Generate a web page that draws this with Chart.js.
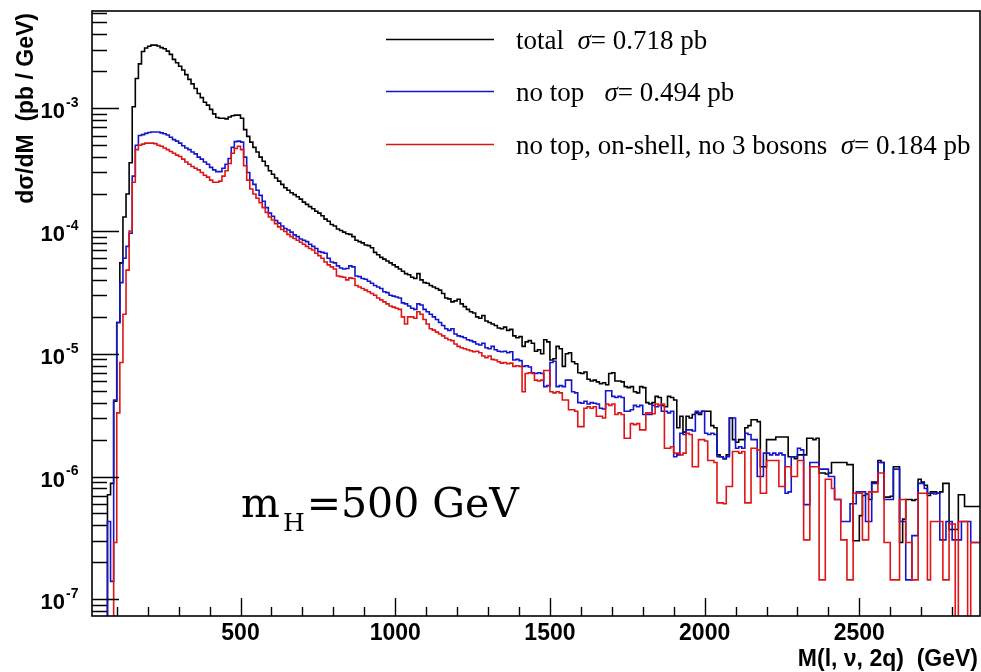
<!DOCTYPE html>
<html>
<head>
<meta charset="utf-8">
<script src="https://cdn.jsdelivr.net/npm/chart.js@4.4.1/dist/chart.umd.min.js"></script>
<style>
  html, body { margin: 0; padding: 0; background: #fff; }
  canvas { display: block; }
</style>
</head>
<body>
<canvas id="my-chart" width="981" height="672"></canvas>
<script>
// histogram binning in GeV: first bin starts at binLow, each bin binWidth wide
const binLow = 20;
const binWidth = 10;

// dsigma/dM (pb/GeV) per bin (0 = empty bin)
const total = [
  0, 0, 0, 0, 0, 7.1e-7, 8.8e-7, 4.1e-6, 1.8e-5, 5.5e-5,
  1.3e-4, 2.0e-4, 3.6e-4, 1.03e-3, 1.75e-3, 2.3e-3, 2.9e-3, 3.1e-3, 3.2e-3, 3.27e-3,
  3.27e-3, 3.22e-3, 3.12e-3, 3.05e-3, 2.92e-3, 2.75e-3, 2.5e-3, 2.35e-3, 2.2e-3, 2.05e-3,
  1.88e-3, 1.72e-3, 1.58e-3, 1.45e-3, 1.32e-3, 1.22e-3, 1.12e-3, 1.06e-3, 9.8e-4, 9.0e-4,
  8.4e-4, 8.3e-4, 8.3e-4, 8.2e-4, 8.5e-4, 8.7e-4, 8.8e-4, 8.8e-4, 8.3e-4, 6.7e-4,
  5.9e-4, 5.3e-4, 4.8e-4, 4.4e-4, 4.0e-4, 3.7e-4, 3.4e-4, 3.1e-4, 2.9e-4, 2.7e-4,
  2.55e-4, 2.4e-4, 2.25e-4, 2.15e-4, 2.05e-4, 1.98e-4, 1.9e-4, 1.82e-4, 1.72e-4, 1.65e-4,
  1.58e-4, 1.52e-4, 1.45e-4, 1.4e-4, 1.33e-4, 1.25e-4, 1.2e-4, 1.13e-4, 1.1e-4, 1.04e-4,
  1.01e-4, 9.8e-5, 9.5e-5, 9.4e-5, 9.0e-5, 8.4e-5, 8.2e-5, 8.0e-5, 7.7e-5, 7.6e-5,
  7.3e-5, 6.7e-5, 6.4e-5, 6.1e-5, 5.9e-5, 5.7e-5, 5.5e-5, 5.3e-5, 5.1e-5, 4.9e-5,
  4.7e-5, 4.5e-5, 4.4e-5, 4.2e-5, 4.1e-5, 4.5e-5, 4.0e-5, 3.8e-5, 3.75e-5, 3.6e-5,
  3.5e-5, 3.4e-5, 3.3e-5, 3.1e-5, 2.85e-5, 2.8e-5, 2.65e-5, 2.7e-5, 2.78e-5, 2.55e-5,
  2.42e-5, 2.3e-5, 2.2e-5, 2.15e-5, 2.0e-5, 1.95e-5, 2.05e-5, 1.85e-5, 1.8e-5, 1.75e-5,
  1.7e-5, 1.62e-5, 1.6e-5, 1.65e-5, 1.55e-5, 1.58e-5, 1.4e-5, 1.35e-5, 1.38e-5, 1.15e-5,
  1.25e-5, 1.28e-5, 1.22e-5, 1.05e-5, 1.08e-5, 1.0e-5, 1.3e-5, 1.25e-5, 8.9e-6, 9.1e-6,
  1.15e-5, 1.1e-5, 7.9e-6, 1.0e-5, 1.02e-5, 8.6e-6, 8.3e-6, 7.0e-6, 6.9e-6, 7.1e-6,
  6.2e-6, 6.0e-6, 6.1e-6, 5.9e-6, 5.7e-6, 5.8e-6, 5.6e-6, 6.9e-6, 7.0e-6, 6.0e-6,
  6.0e-6, 5.9e-6, 5.4e-6, 5.3e-6, 5.4e-6, 4.9e-6, 4.8e-6, 5.4e-6, 5.3e-6, 4.0e-6,
  3.9e-6, 4.0e-6, 4.5e-6, 4.4e-6, 3.8e-6, 3.7e-6, 4.5e-6, 4.4e-6, 4.2e-6, 2.5e-6,
  3.1e-6, 2.3e-6, 3.1e-6, 3.0e-6, 3.2e-6, 3.3e-6, 3.2e-6, 3.4e-6, 3.4e-6, 3.4e-6,
  2.6e-6, 2.5e-6, 1.5e-6, 1.45e-6, 1.4e-6, 1.5e-6, 3.0e-6, 2.0e-6, 1.9e-6, 2.0e-6,
  2.0e-6, 2.5e-6, 2.6e-6, 2.9e-6, 2.9e-6, 2.8e-6, 1.2e-6, 1.2e-6, 2.0e-6, 2.0e-6,
  2.0e-6, 2.1e-6, 2.1e-6, 2.1e-6, 2.1e-6, 1.45e-6, 1.45e-6, 1.4e-6, 1.5e-6, 1.5e-6,
  1.5e-6, 2.05e-6, 2.05e-6, 2.0e-6, 2.05e-6, 1.07e-6, 1.07e-6, 1.05e-6, 1.07e-6, 1.3e-6,
  1.3e-6, 1.3e-6, 1.3e-6, 1.3e-6, 1.25e-6, 1.25e-6, 3.0e-7, 3.0e-7, 4.8e-7, 7.0e-7,
  7.2e-7, 6.5e-7, 9.0e-7, 9.0e-7, 1.35e-6, 1.3e-6, 6.8e-7, 6.8e-7, 6.9e-7, 1.2e-6,
  1.2e-6, 2.9e-7, 4.5e-7, 6.5e-7, 6.5e-7, 6.4e-7, 6.5e-7, 9.5e-7, 9.0e-7, 8.5e-7,
  7.0e-7, 7.5e-7, 7.5e-7, 7.3e-7, 7.5e-7, 8.8e-7, 8.8e-7, 3.7e-7, 3.7e-7, 3.7e-7,
  7.1e-7, 7.1e-7, 5.7e-7, 5.7e-7, 5.7e-7, 5.7e-7, 5.7e-7
];

const noTop = [
  0, 0, 0, 0, 0, 4.3e-7, 1.4e-7, 4.2e-6, 1.8e-5, 3.8e-5,
  6.0e-5, 7.5e-5, 9.6e-5, 2.8e-4, 5.0e-4, 6.0e-4, 6.1e-4, 6.25e-4, 6.35e-4, 6.4e-4,
  6.4e-4, 6.4e-4, 6.3e-4, 6.2e-4, 6.05e-4, 5.8e-4, 5.55e-4, 5.4e-4, 5.2e-4, 4.95e-4,
  4.75e-4, 4.6e-4, 4.4e-4, 4.25e-4, 4.0e-4, 3.85e-4, 3.65e-4, 3.5e-4, 3.3e-4, 3.15e-4,
  3.05e-4, 3.05e-4, 3.25e-4, 3.5e-4, 3.9e-4, 4.8e-4, 5.35e-4, 5.4e-4, 5.3e-4, 4.0e-4,
  3.0e-4, 2.6e-4, 2.4e-4, 2.15e-4, 1.95e-4, 1.75e-4, 1.55e-4, 1.4e-4, 1.32e-4, 1.22e-4,
  1.16e-4, 1.1e-4, 1.05e-4, 1.02e-4, 9.8e-5, 9.3e-5, 9.0e-5, 8.6e-5, 8.4e-5, 8.2e-5,
  7.8e-5, 7.5e-5, 7.2e-5, 6.8e-5, 6.7e-5, 6.6e-5, 6.0e-5, 5.6e-5, 5.5e-5, 5.2e-5,
  5.0e-5, 4.9e-5, 4.95e-5, 5.2e-5, 5.1e-5, 4.3e-5, 4.25e-5, 4.1e-5, 4.05e-5, 3.9e-5,
  3.76e-5, 3.6e-5, 3.5e-5, 3.4e-5, 3.2e-5, 3.15e-5, 3.0e-5, 2.95e-5, 2.9e-5, 2.85e-5,
  2.6e-5, 2.55e-5, 2.45e-5, 2.35e-5, 2.3e-5, 2.55e-5, 2.5e-5, 2.3e-5, 2.2e-5, 2.1e-5,
  2.0e-5, 1.9e-5, 1.8e-5, 1.7e-5, 1.6e-5, 1.55e-5, 1.6e-5, 1.45e-5, 1.4e-5, 1.38e-5,
  1.35e-5, 1.3e-5, 1.28e-5, 1.25e-5, 1.2e-5, 1.18e-5, 1.22e-5, 1.12e-5, 1.1e-5, 1.15e-5,
  1.08e-5, 1.05e-5, 1.04e-5, 1.05e-5, 1.02e-5, 1.04e-5, 8.9e-6, 9.0e-6, 8.8e-6, 7.9e-6,
  8.0e-6, 7.8e-6, 7.0e-6, 6.9e-6, 7.0e-6, 6.9e-6, 5.4e-6, 5.5e-6, 8.5e-6, 8.7e-6,
  5.4e-6, 5.5e-6, 5.4e-6, 6.1e-6, 6.1e-6, 4.9e-6, 4.8e-6, 4.0e-6, 3.95e-6, 4.1e-6,
  3.9e-6, 4.0e-6, 3.95e-6, 3.9e-6, 3.6e-6, 3.55e-6, 5.0e-6, 5.0e-6, 4.5e-6, 4.4e-6,
  4.5e-6, 4.4e-6, 3.4e-6, 3.4e-6, 3.5e-6, 3.8e-6, 3.7e-6, 3.8e-6, 3.2e-6, 3.2e-6,
  3.2e-6, 3.8e-6, 3.7e-6, 3.8e-6, 3.4e-6, 3.4e-6, 3.3e-6, 3.4e-6, 1.45e-6, 1.5e-6,
  2.25e-6, 2.2e-6, 2.4e-6, 2.4e-6, 2.35e-6, 3.4e-6, 3.3e-6, 3.4e-6, 2.25e-6, 2.2e-6,
  2.25e-6, 2.2e-6, 1.45e-6, 1.45e-6, 1.4e-6, 1.45e-6, 3.0e-6, 3.0e-6, 1.7e-6, 1.75e-6,
  1.7e-6, 2.25e-6, 2.2e-6, 2.0e-6, 2.0e-6, 1.0e-6, 1.0e-6, 1.55e-6, 1.55e-6, 1.5e-6,
  1.55e-6, 1.5e-6, 1.55e-6, 1.5e-6, 7.3e-7, 7.5e-7, 1.45e-6, 1.45e-6, 1.7e-6, 1.65e-6,
  5.9e-7, 5.9e-7, 1.3e-6, 1.3e-6, 1.3e-6, 1.15e-6, 1.15e-6, 1.15e-6, 1.0e-6, 1.0e-6,
  6.5e-7, 6.5e-7, 4.3e-7, 4.3e-7, 4.3e-7, 6.0e-7, 6.0e-7, 7.5e-7, 7.5e-7, 7.5e-7,
  4.3e-7, 4.3e-7, 8.8e-7, 8.8e-7, 1.3e-6, 1.3e-6, 6.5e-7, 6.5e-7, 6.5e-7, 1.15e-6,
  1.15e-6, 4.3e-7, 4.3e-7, 1.44e-7, 1.44e-7, 3.3e-7, 3.3e-7, 8.8e-7, 8.8e-7, 8.0e-7,
  7.3e-7, 7.3e-7, 7.2e-7, 7.3e-7, 3.05e-7, 3.05e-7, 4.3e-7, 4.3e-7, 3.05e-7, 3.05e-7,
  3.05e-7, 4.3e-7, 4.3e-7, 4.3e-7, 2.9e-7, 2.9e-7, 2.9e-7
];

const noTopOnShell = [
  0, 0, 0, 0, 0, 0, 0, 2.9e-7, 3.3e-6, 8.5e-6,
  2.1e-5, 4.8e-5, 1.0e-4, 2.5e-4, 4.6e-4, 5.0e-4, 5.1e-4, 5.2e-4, 5.2e-4, 5.2e-4,
  5.15e-4, 5.0e-4, 4.9e-4, 4.75e-4, 4.6e-4, 4.45e-4, 4.3e-4, 4.15e-4, 4.05e-4, 3.85e-4,
  3.65e-4, 3.5e-4, 3.35e-4, 3.25e-4, 3.15e-4, 3.0e-4, 2.85e-4, 2.75e-4, 2.6e-4, 2.5e-4,
  2.5e-4, 2.55e-4, 2.8e-4, 3.1e-4, 3.55e-4, 4.3e-4, 4.7e-4, 4.9e-4, 4.6e-4, 3.4e-4,
  2.6e-4, 2.2e-4, 2.0e-4, 1.85e-4, 1.7e-4, 1.55e-4, 1.42e-4, 1.3e-4, 1.23e-4, 1.15e-4,
  1.08e-4, 1.03e-4, 9.9e-5, 9.4e-5, 9.0e-5, 8.7e-5, 8.4e-5, 8.1e-5, 7.8e-5, 7.5e-5,
  7.2e-5, 7.0e-5, 6.6e-5, 6.3e-5, 6.0e-5, 5.6e-5, 5.3e-5, 5.1e-5, 4.9e-5, 4.3e-5,
  4.25e-5, 4.2e-5, 4.0e-5, 4.15e-5, 4.1e-5, 3.6e-5, 3.5e-5, 3.4e-5, 3.3e-5, 3.2e-5,
  3.1e-5, 3.0e-5, 2.85e-5, 2.75e-5, 2.65e-5, 2.55e-5, 2.45e-5, 2.4e-5, 2.35e-5, 2.3e-5,
  2.0e-5, 1.75e-5, 2.0e-5, 2.0e-5, 1.95e-5, 2.2e-5, 2.1e-5, 1.9e-5, 1.75e-5, 1.6e-5,
  1.56e-5, 1.5e-5, 1.45e-5, 1.4e-5, 1.34e-5, 1.3e-5, 1.28e-5, 1.2e-5, 1.15e-5, 1.12e-5,
  1.1e-5, 1.08e-5, 1.06e-5, 1.04e-5, 1.05e-5, 1.02e-5, 9.6e-6, 9.3e-6, 9.6e-6, 9.0e-6,
  8.9e-6, 8.6e-6, 8.4e-6, 8.5e-6, 8.3e-6, 8.4e-6, 7.9e-6, 8.0e-6, 7.9e-6, 4.9e-6,
  6.9e-6, 7.0e-6, 6.9e-6, 6.1e-6, 6.0e-6, 6.1e-6, 7.3e-6, 7.3e-6, 4.9e-6, 4.8e-6,
  4.9e-6, 4.8e-6, 4.2e-6, 4.2e-6, 3.5e-6, 3.5e-6, 3.4e-6, 2.55e-6, 2.55e-6, 3.6e-6,
  3.7e-6, 3.6e-6, 3.7e-6, 3.1e-6, 3.1e-6, 3.0e-6, 3.9e-6, 3.8e-6, 3.9e-6, 3.2e-6,
  3.3e-6, 3.2e-6, 2.05e-6, 2.05e-6, 2.7e-6, 2.65e-6, 2.7e-6, 2.4e-6, 2.4e-6, 3.3e-6,
  3.3e-6, 3.25e-6, 3.9e-6, 3.8e-6, 3.9e-6, 1.7e-6, 1.7e-6, 1.75e-6, 1.55e-6, 1.55e-6,
  1.5e-6, 1.55e-6, 2.25e-6, 2.2e-6, 1.2e-6, 1.2e-6, 2.0e-6, 2.0e-6, 1.95e-6, 1.35e-6,
  1.35e-6, 1.3e-6, 6.1e-7, 6.1e-7, 6.0e-7, 8.3e-7, 8.3e-7, 1.6e-6, 1.6e-6, 1.55e-6,
  1.6e-6, 6.1e-7, 6.1e-7, 1.7e-6, 1.7e-6, 1.65e-6, 7.3e-7, 7.3e-7, 1.35e-6, 1.35e-6,
  1.35e-6, 1.35e-6, 8.3e-7, 8.3e-7, 1.2e-6, 1.2e-6, 1.0e-6, 1.0e-6, 1.35e-6, 1.35e-6,
  3.05e-7, 3.05e-7, 1.2e-6, 1.2e-6, 1.2e-6, 1.44e-7, 1.44e-7, 9.5e-7, 9.5e-7, 8.0e-7,
  6.5e-7, 6.5e-7, 3.05e-7, 3.05e-7, 1.44e-7, 1.44e-7, 7.3e-7, 7.3e-7, 7.3e-7, 3.05e-7,
  3.05e-7, 7.5e-7, 7.5e-7, 7.5e-7, 1.07e-6, 1.07e-6, 2.9e-7, 2.9e-7, 1.44e-7, 1.44e-7,
  1.44e-7, 6.5e-7, 6.5e-7, 2.9e-7, 2.9e-7, 1.44e-7, 1.44e-7, 7.3e-7, 7.3e-7, 7.3e-7,
  1.44e-7, 4.3e-7, 4.3e-7, 4.3e-7, 4.3e-7, 1.44e-7, 1.44e-7, 4.1e-7, 4.1e-7, 0,
  4.3e-7, 4.3e-7, 4.3e-7, 0, 2.9e-7, 2.9e-7, 2.9e-7
];

const seriesNames = ['total  ', 'no top   ', 'no top, on-shell, no 3 bosons  '];
const seriesXsec = ['0.718', '0.494', '0.184'];
const seriesColors = ['#000000', '#1414cc', '#e01414'];

const xTicks = [500, 1000, 1500, 2000, 2500];
const yDecades = [-7, -6, -5, -4, -3];

const xRange = [20, 2890];
const yRange = [7.31e-8, 6.2e-3];

// empty bins sit below the axis floor, like ROOT draws them
const emptyFloor = 1e-12;

function histPoints(values) {
  const pts = values.map((v, i) => ({ x: binLow + i * binWidth, y: v > 0 ? v : emptyFloor }));
  pts.push({ x: binLow + values.length * binWidth, y: pts[pts.length - 1].y });
  return pts;
}

const sans = '"Liberation Sans", Arial, sans-serif';
const serif = '"Liberation Serif", "Times New Roman", serif';

const decor = {
  id: 'decor',
  afterDatasetsDraw(chart) {
    const { ctx, chartArea: a } = chart;
    const xs = chart.scales.x;
    const ys = chart.scales.y;
    ctx.save();
    ctx.strokeStyle = '#000';
    ctx.fillStyle = '#000';

    // ticks inside the frame
    ctx.lineWidth = 1.4;
    ctx.beginPath();
    for (let v = 100; v < xs.max; v += 100) {
      const px = Math.round(xs.getPixelForValue(v)) + 0.5;
      ctx.moveTo(px, a.bottom);
      ctx.lineTo(px, a.bottom - (v % 500 === 0 ? 18 : 9));
    }
    for (let d = -8; d <= -3; d++) {
      for (let m = 1; m <= 9; m++) {
        const v = m * Math.pow(10, d);
        if (v < ys.min || v > ys.max) continue;
        const py = Math.round(ys.getPixelForValue(v)) + 0.5;
        ctx.moveTo(a.left, py);
        ctx.lineTo(a.left + (m === 1 ? 27 : 15), py);
      }
    }
    ctx.stroke();

    ctx.lineWidth = 1.6;
    ctx.strokeRect(a.left, a.top, a.right - a.left, a.bottom - a.top);

    // x tick labels
    ctx.font = 'bold 23px ' + sans;
    ctx.textAlign = 'center';
    ctx.textBaseline = 'alphabetic';
    xTicks.forEach(v => ctx.fillText(String(v), xs.getPixelForValue(v), 640));

    // y tick labels 10^n
    yDecades.forEach(d => {
      const py = ys.getPixelForValue(Math.pow(10, d));
      ctx.font = 'bold 22px ' + sans;
      ctx.textAlign = 'right';
      ctx.textBaseline = 'middle';
      ctx.fillText('10', 65, py + 4);
      ctx.font = 'bold 14px ' + sans;
      ctx.textAlign = 'left';
      ctx.fillText(String(d), 66, py - 5);
    });

    // axis titles
    ctx.font = 'bold 23px ' + sans;
    ctx.textAlign = 'right';
    ctx.textBaseline = 'alphabetic';
    ctx.fillText('M(l, \u03bd, 2q)  (GeV)', 978, 666);

    ctx.save();
    ctx.translate(27, 13);
    ctx.rotate(-Math.PI / 2);
    ctx.textAlign = 'right';
    ctx.textBaseline = 'middle';
    ctx.fillText('d\u03c3/dM  (pb / GeV)', 0, 0);
    ctx.restore();

    // legend
    const rowY = [39, 91, 144];
    seriesNames.forEach((name, i) => {
      ctx.strokeStyle = seriesColors[i];
      ctx.lineWidth = 1.6;
      ctx.beginPath();
      ctx.moveTo(386, rowY[i] + 0.5);
      ctx.lineTo(494, rowY[i] + 0.5);
      ctx.stroke();
      ctx.fillStyle = '#000';
      ctx.textAlign = 'left';
      ctx.textBaseline = 'alphabetic';
      let tx = 516;
      const by = rowY[i] + 10;
      ctx.font = '27px ' + serif;
      ctx.fillText(name, tx, by);
      tx += ctx.measureText(name).width;
      ctx.font = 'italic 27px ' + serif;
      ctx.fillText('\u03c3', tx, by);
      tx += ctx.measureText('\u03c3').width;
      ctx.font = '27px ' + serif;
      ctx.fillText('= ' + seriesXsec[i] + ' pb', tx, by);
    });

    // Higgs mass label
    ctx.fillStyle = '#000';
    ctx.textAlign = 'left';
    ctx.font = '41px "DejaVu Serif", serif';
    ctx.fillText('m', 241, 517);
    let mx = 241 + ctx.measureText('m').width + 3;
    ctx.font = '25px "DejaVu Serif", serif';
    ctx.fillText('H', mx, 531);
    mx += ctx.measureText('H').width + 2;
    ctx.font = '41px "DejaVu Serif", serif';
    ctx.fillText('=500 GeV', mx, 517);

    ctx.restore();
  }
};

const ctx = document.querySelector('#my-chart');

new Chart(ctx, {
  type: 'line',
  data: {
    datasets: [
      { label: seriesNames[2], data: histPoints(noTopOnShell), borderColor: seriesColors[2] },
      { label: seriesNames[1], data: histPoints(noTop), borderColor: seriesColors[1] },
      { label: seriesNames[0], data: histPoints(total), borderColor: seriesColors[0] }
    ]
  },
  options: {
    responsive: false,
    animation: false,
    devicePixelRatio: 1,
    layout: { padding: { left: 92, top: 11, right: 1, bottom: 56 } },
    elements: {
      point: { radius: 0 },
      line: { borderWidth: 1.6, stepped: 'before', fill: false, tension: 0 }
    },
    plugins: { legend: { display: false }, tooltip: { enabled: false } },
    scales: {
      x: { type: 'linear', display: false, min: xRange[0], max: xRange[1] },
      y: { type: 'logarithmic', display: false, min: yRange[0], max: yRange[1] }
    }
  },
  plugins: [decor]
});
</script>
</body>
</html>
